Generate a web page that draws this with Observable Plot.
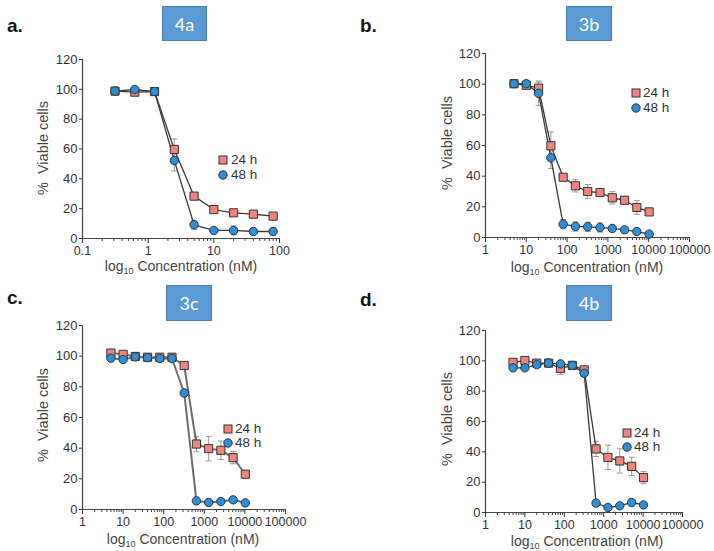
<!DOCTYPE html>
<html>
<head>
<meta charset="utf-8">
<script src="https://cdn.jsdelivr.net/npm/d3@7"></script>
<script src="https://cdn.jsdelivr.net/npm/@observablehq/plot@0.6"></script>
<style>
  body { margin: 0; background: #fff; font-family: "Liberation Sans", Arial, sans-serif; }
  #root { position: relative; width: 714px; height: 551px; overflow: hidden; background: #fff; }
  .letter { position: absolute; font-weight: bold; font-size: 19px; color: #151515; line-height: 19px; }
  .box { position: absolute; background: #5B9BD5; border: 1px solid #4a7fb0; color: #fff; font-family: Lato, "Open Sans", sans-serif; font-size: 18px; display: flex; align-items: center; justify-content: center; box-sizing: border-box; }
  .ylab { position: absolute; font-size: 14.5px; color: #444; white-space: pre; transform: translate(-50%, -50%) rotate(-90deg); line-height: 15px; }
  .xlab { position: absolute; font-size: 14px; color: #444; white-space: nowrap; transform: translate(-50%, -50%); line-height: 16px; }
  .xlab sub { font-size: 9px; vertical-align: -3px; line-height: 0; }
  .leg { position: absolute; font-size: 13.5px; color: #333; line-height: 12px; white-space: nowrap; transform: translateY(-50%); }
</style>
</head>
<body>
<div id="root"></div>
<script>
// ---------- data ----------
const yTicks = [0, 20, 40, 60, 80, 100, 120];
const xTicksA = [0.1, 1, 10, 100];
const xTicksBCD = [1, 10, 100, 1000, 10000, 100000];
const seriesNames = ["24 h", "48 h"];
const panelLetters = ["a.", "b.", "c.", "d."];
const compoundLabels = ["4a", "3b", "3c", "4b"];

const concA = [0.3125, 0.625, 1.25, 2.5, 5, 10, 20, 40, 80];
const concBCD = [5, 10, 20, 40, 80, 160, 320, 640, 1280, 2560, 5120, 10240];

const a24 = [98.8, 98.1, 98.5, 59.7, 28.4, 19.4, 17.2, 16.3, 15];
const a24err = [1, 1, 1, 7, 2, 1, 1, 1, 1];
const a48 = [98.8, 99.9, 98.5, 52.3, 9.2, 5.4, 5.4, 4.7, 4.7];
const a48err = [1, 1, 1, 7, 3, 2, 3, 2, 2.5];

const b24 = [100.3, 99.3, 97.4, 59.8, 39.3, 33.7, 30, 29.3, 25.9, 24.3, 19.6, 16.7];
const b24err = [1, 1, 4, 9, 1.5, 4, 4.5, 2, 4, 2, 4.5, 1];
const b48 = [100.3, 100.3, 94, 52, 8.7, 7.2, 7, 6.5, 5.9, 5, 3.9, 2.2];
const b48err = [1, 1, 8, 7, 3, 3, 3, 3, 2, 1.5, 1.5, 1];

const c24 = [102, 101.2, 99.8, 99.3, 99.3, 99.3, 93.9, 42.7, 39.7, 38.6, 33.8, 23];
const c24err = [1, 1, 1, 1, 1, 1, 1, 5, 8, 6, 4, 2];
const c48 = [98.7, 97.8, 99.5, 99, 98.5, 98.5, 76, 5.6, 4.6, 5.2, 6.3, 4.3];
const c48err = [1, 1, 1, 1, 1, 1, 1, 1, 1, 1, 1, 1];

const d24 = [99, 100.2, 98.5, 98.5, 95, 97, 94, 41.9, 36.3, 34, 30.4, 23];
const d24err = [1, 1, 1, 1, 4, 1, 1, 5, 8, 8, 6, 4];
const d48 = [95.4, 95.4, 97.5, 98.5, 98, 97, 91.8, 6.2, 3.3, 4.4, 6.6, 5];
const d48err = [1, 1, 1, 1, 1, 1, 1, 1, 1, 1, 2, 1];

// ---------- layout ----------
const panels = [
  { left: 0, top: 0, h: 275, ml: 82, mr: 78, mt: 59, mb: 37, conc: concA, v24: a24, e24: a24err, v48: a48, e48: a48err,
    xDomain: [0.1, 100], xTicks: xTicksA, lineColor: "#3a3a3a", lineWidth: 1.3,
    letter: [7, 16], box: [162, 6, 45, 35], ylab: [43, 148], xlab: [181, 265],
    leg: { mx: 223, my: [160, 175], tx: 231 } },
  { left: 357, top: 0, h: 275, ml: 128, mr: 25, mt: 53, mb: 38, conc: concBCD, v24: b24, e24: b24err, v48: b48, e48: b48err,
    xDomain: [1, 100000], xTicks: xTicksBCD, lineColor: "#3a3a3a", lineWidth: 1.3,
    letter: [360, 16], box: [566, 6, 46, 35], ylab: [447, 143], xlab: [587, 266],
    leg: { mx: 636, my: [93, 108], tx: 643 } },
  { left: 0, top: 275, h: 276, ml: 82, mr: 72, mt: 50, mb: 42, conc: concBCD, v24: c24, e24: c24err, v48: c48, e48: c48err,
    xDomain: [1, 100000], xTicks: xTicksBCD, lineColor: "#6e6e6e", lineWidth: 2,
    letter: [7, 288], box: [166, 285, 46, 36], ylab: [43, 415], xlab: [183, 538],
    leg: { mx: 228, my: [428.5, 443], tx: 235 } },
  { left: 357, top: 275, h: 276, ml: 128, mr: 32, mt: 55, mb: 39, conc: concBCD, v24: d24, e24: d24err, v48: d48, e48: d48err,
    xDomain: [1, 100000], xTicks: xTicksBCD, lineColor: "#3a3a3a", lineWidth: 1.3,
    letter: [360, 290], box: [566, 285, 46, 36], ylab: [447, 419], xlab: [587, 540],
    leg: { mx: 627, my: [432.5, 447], tx: 634 } }
];

const squareFill = "#F0857F";
const circleFill = "#2C8FD8";
const markStroke = "#333";
const errColor = "#999";

const capSymbol = { draw(ctx) { ctx.moveTo(-3, 0); ctx.lineTo(3, 0); } };

function minorTicks(domain) {
  const out = [];
  for (let e = Math.round(Math.log10(domain[0])); e < Math.round(Math.log10(domain[1])); e++) {
    for (let k = 2; k <= 9; k++) out.push(k * Math.pow(10, e));
  }
  return out;
}

const root = document.getElementById("root");

panels.forEach((p, idx) => {
  const rows24 = p.conc.map((c, i) => ({ conc: c, v: p.v24[i], e: p.e24[i], s: seriesNames[0] }));
  const rows48 = p.conc.map((c, i) => ({ conc: c, v: p.v48[i], e: p.e48[i], s: seriesNames[1] }));
  const rows = rows24.concat(rows48);

  const chart = Plot.plot({
    width: 357, height: p.h,
    marginLeft: p.ml, marginRight: p.mr, marginTop: p.mt, marginBottom: p.mb,
    style: { fontFamily: "'Liberation Sans', Arial, sans-serif", fontSize: "13px", color: "#333", background: "transparent", overflow: "visible" },
    x: { type: "log", domain: p.xDomain },
    y: { domain: [0, 120] },
    marks: [
      Plot.ruleY([0], { stroke: "#444", strokeWidth: 1.2 }),
      Plot.ruleX([p.xDomain[0]], { stroke: "#444", strokeWidth: 1.2 }),
      Plot.axisY({ ticks: yTicks, tickSize: 3, tickPadding: 2, label: null, color: "#333", fontSize: 13 }),
      Plot.axisX({ ticks: p.xTicks, tickSize: 5, tickPadding: 2.5, tickFormat: d => String(d), label: null, color: "#333", fontSize: 12.5 }),
      Plot.axisX({ ticks: minorTicks(p.xDomain), tickSize: 3, fill: "none", tickFormat: () => "", label: null, stroke: "#444" }),
      Plot.ruleX(rows, { x: "conc", y1: d => d.v - d.e, y2: d => d.v + d.e, stroke: errColor, strokeWidth: 1 }),
      Plot.dot(rows, { x: "conc", y: d => d.v - d.e, symbol: capSymbol, fill: "none", stroke: errColor, strokeWidth: 1 }),
      Plot.dot(rows, { x: "conc", y: d => d.v + d.e, symbol: capSymbol, fill: "none", stroke: errColor, strokeWidth: 1 }),
      Plot.line(rows, { x: "conc", y: "v", z: "s", stroke: p.lineColor, strokeWidth: p.lineWidth }),
      Plot.dot(rows24, { x: "conc", y: "v", symbol: "square", r: 4.6, fill: squareFill, stroke: markStroke, strokeWidth: 1 }),
      Plot.dot(rows48, { x: "conc", y: "v", symbol: "circle", r: 4.2, fill: circleFill, stroke: markStroke, strokeWidth: 1 })
    ]
  });
  chart.style.position = "absolute";
  chart.style.left = p.left + "px";
  chart.style.top = p.top + "px";
  root.appendChild(chart);

  const L = document.createElement("div");
  L.className = "letter";
  L.style.left = p.letter[0] + "px"; L.style.top = p.letter[1] + "px";
  L.textContent = panelLetters[idx];
  root.appendChild(L);

  const B = document.createElement("div");
  B.className = "box";
  B.style.left = p.box[0] + "px"; B.style.top = p.box[1] + "px";
  B.style.width = p.box[2] + "px"; B.style.height = p.box[3] + "px";
  B.textContent = compoundLabels[idx];
  root.appendChild(B);

  const Y = document.createElement("div");
  Y.className = "ylab";
  Y.style.left = p.ylab[0] + "px"; Y.style.top = p.ylab[1] + "px";
  Y.textContent = "%  Viable cells";
  root.appendChild(Y);

  const X = document.createElement("div");
  X.className = "xlab";
  X.style.left = p.xlab[0] + "px"; X.style.top = (p.xlab[1] + 1) + "px";
  X.innerHTML = "log<sub>10</sub> Concentration (nM)";
  root.appendChild(X);

  seriesNames.forEach((name, k) => {
    const my = p.leg.my[k];
    const sw = document.createElementNS("http://www.w3.org/2000/svg", "svg");
    sw.setAttribute("width", 12); sw.setAttribute("height", 12);
    sw.style.position = "absolute";
    sw.style.left = (p.leg.mx - 6) + "px"; sw.style.top = (my - 6) + "px";
    if (k === 0) {
      sw.innerHTML = `<rect x="2" y="2" width="8" height="8" fill="${squareFill}" stroke="${markStroke}" stroke-width="1"/>`;
    } else {
      sw.innerHTML = `<circle cx="6" cy="6" r="4.2" fill="${circleFill}" stroke="${markStroke}" stroke-width="1"/>`;
    }
    root.appendChild(sw);
    const T = document.createElement("div");
    T.className = "leg";
    T.style.left = p.leg.tx + "px"; T.style.top = my + "px";
    T.textContent = name;
    root.appendChild(T);
  });
});
</script>
</body>
</html>
